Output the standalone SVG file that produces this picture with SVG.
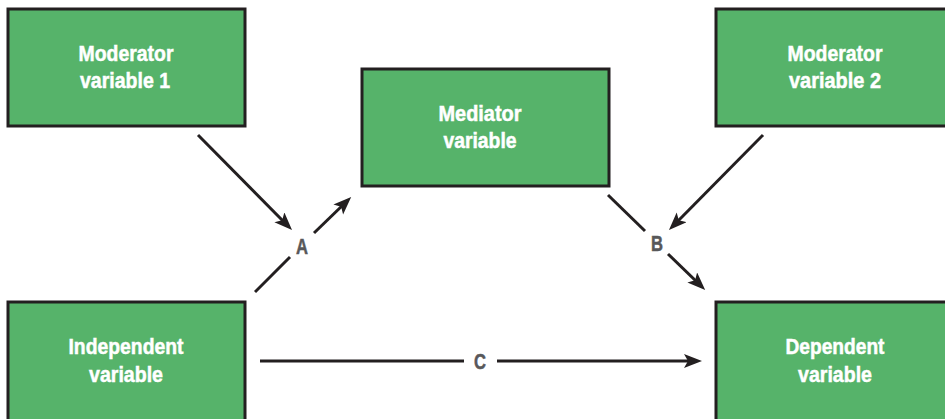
<svg xmlns="http://www.w3.org/2000/svg" width="945" height="419" viewBox="0 0 945 419">
  <style>
    .box { fill: #56b36a; stroke: #231f20; stroke-width: 3; }
    .lbl { font-family: "Liberation Sans", Arial, sans-serif; font-weight: bold; font-size: 21.5px; fill: #ffffff; stroke: #ffffff; stroke-width: 0.5; text-anchor: middle; }
    .path-lbl { font-family: "Liberation Sans", Arial, sans-serif; font-weight: bold; font-size: 22px; fill: #58585a; stroke: #58585a; stroke-width: 0.5; text-anchor: middle; }
    .edge { stroke: #231f20; stroke-width: 3; fill: none; }
  </style>
  <defs>
    <marker id="head" markerUnits="userSpaceOnUse" markerWidth="20" markerHeight="16" refX="8" refY="7" orient="auto">
      <path d="M0,0 L18,7 L0,14 L4,7 Z" fill="#231f20"/>
    </marker>
  </defs>
  <rect width="945" height="419" fill="#ffffff"/>

  <g id="moderator1">
    <rect class="box" x="8" y="9" width="237" height="117"/>
    <text class="lbl" x="126" y="61" textLength="95" lengthAdjust="spacingAndGlyphs">Moderator</text>
    <text class="lbl" x="125" y="88" textLength="90" lengthAdjust="spacingAndGlyphs">variable 1</text>
  </g>

  <g id="mediator">
    <rect class="box" x="362" y="69" width="247" height="117"/>
    <text class="lbl" x="480" y="121" textLength="83" lengthAdjust="spacingAndGlyphs">Mediator</text>
    <text class="lbl" x="480" y="148" textLength="73" lengthAdjust="spacingAndGlyphs">variable</text>
  </g>

  <g id="moderator2">
    <rect class="box" x="716" y="9" width="240" height="117"/>
    <text class="lbl" x="835" y="61" textLength="95" lengthAdjust="spacingAndGlyphs">Moderator</text>
    <text class="lbl" x="835" y="88" textLength="92" lengthAdjust="spacingAndGlyphs">variable 2</text>
  </g>

  <g id="independent">
    <rect class="box" x="8" y="302" width="237" height="130"/>
    <text class="lbl" x="126" y="354" textLength="115" lengthAdjust="spacingAndGlyphs">Independent</text>
    <text class="lbl" x="126" y="382" textLength="74" lengthAdjust="spacingAndGlyphs">variable</text>
  </g>

  <g id="dependent">
    <rect class="box" x="716" y="302" width="240" height="130"/>
    <text class="lbl" x="835" y="354" textLength="99" lengthAdjust="spacingAndGlyphs">Dependent</text>
    <text class="lbl" x="835" y="382" textLength="74" lengthAdjust="spacingAndGlyphs">variable</text>
  </g>

  <g id="connectors">
    <!-- path A: independent -> mediator, moderated by variable 1 -->
    <line class="edge" x1="255" y1="292" x2="290" y2="257"/>
    <line class="edge" x1="314" y1="233" x2="344" y2="204" marker-end="url(#head)"/>
    <line class="edge" x1="198" y1="135" x2="285" y2="223" marker-end="url(#head)"/>
    <text class="path-lbl" x="302" y="254" textLength="12" lengthAdjust="spacingAndGlyphs">A</text>

    <!-- path B: mediator -> dependent, moderated by variable 2 -->
    <line class="edge" x1="608" y1="195" x2="645" y2="231"/>
    <line class="edge" x1="668" y1="254" x2="698" y2="283" marker-end="url(#head)"/>
    <line class="edge" x1="763" y1="135" x2="676" y2="223" marker-end="url(#head)"/>
    <text class="path-lbl" x="657" y="251" textLength="12" lengthAdjust="spacingAndGlyphs">B</text>

    <!-- path C: direct effect -->
    <line class="edge" x1="260" y1="361" x2="464" y2="361"/>
    <line class="edge" x1="497" y1="361" x2="692" y2="361" marker-end="url(#head)"/>
    <text class="path-lbl" x="480" y="369" textLength="12" lengthAdjust="spacingAndGlyphs">C</text>
  </g>
</svg>
